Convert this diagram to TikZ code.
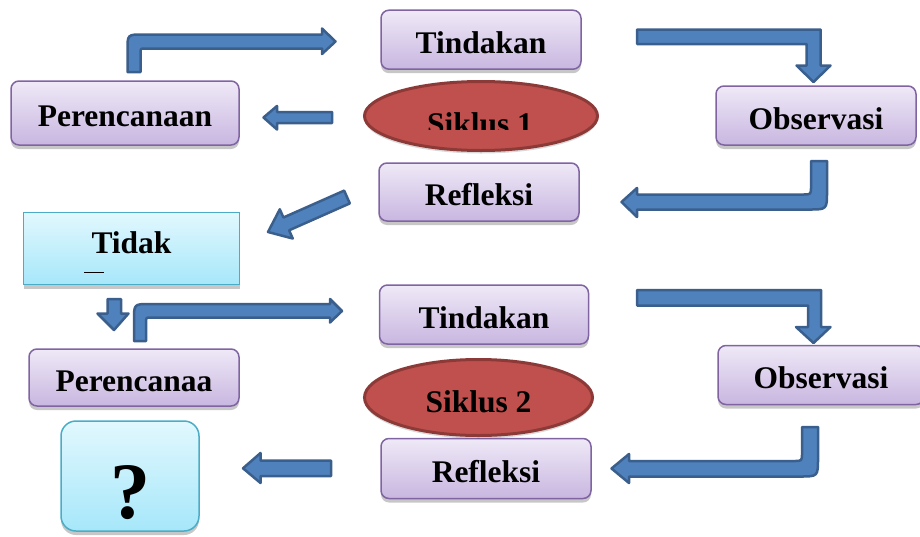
\documentclass[tikz,border=0pt]{standalone}
\usepackage{fontspec}
\setmainfont{Liberation Serif}
\usetikzlibrary{shapes.geometric,shadows,calc}
\definecolor{boxtop}{HTML}{EFE9F7}
\definecolor{boxbot}{HTML}{C8B6E0}
\definecolor{boxline}{HTML}{8064A2}
\definecolor{ellfill}{HTML}{C0504D}
\definecolor{ellline}{HTML}{8C3A38}
\definecolor{arrfill}{HTML}{4F81BD}
\definecolor{arrline}{HTML}{3A5F8C}
\definecolor{cyantop}{HTML}{E2F8FE}
\definecolor{cyanbot}{HTML}{A6E7FA}
\definecolor{cyanline}{HTML}{4BACC6}
\tikzset{
  stagebox/.style={draw=boxline, line width=1.5pt, rounded corners=8pt,
    top color=boxtop, bottom color=boxbot,
    font=\fontsize{31.5}{36}\selectfont\bfseries,
    text height=27.5pt, text depth=0pt, inner sep=0pt,
    drop shadow={shadow xshift=0pt, shadow yshift=-4pt, opacity=0.22, fill=black}},
  cyanbox/.style={draw=cyanline, line width=1.5pt,
    top color=cyantop, bottom color=cyanbot, inner sep=0pt,
    drop shadow={shadow xshift=0pt, shadow yshift=-4pt, opacity=0.22, fill=black}},
  cycleell/.style={ellipse, draw=ellline, line width=3pt, fill=ellfill, inner sep=0pt,
    font=\fontsize{31.5}{36}\selectfont\bfseries,
    drop shadow={shadow xshift=0pt, shadow yshift=-3pt, opacity=0.15, fill=black}},
  blockarrow/.style={fill=arrfill, draw=arrline, line width=2.5pt, line join=round}
}
\begin{document}
\begin{tikzpicture}[x=1pt,y=-1pt]
\useasboundingbox (0,0) rectangle (920,536);

% ---- cycle 1 ----
\node[stagebox, minimum width=200pt, minimum height=59pt] (tindakanA) at (481,39.7) {Tindakan};
\node[stagebox, minimum width=228pt, minimum height=64pt] (perencanaanA) at (125,113) {Perencanaan};
\node[stagebox, minimum width=200pt, minimum height=59pt] (observasiA) at (816,115.5) {Observasi};
\node[stagebox, minimum width=200pt, minimum height=58pt] (refleksiA) at (479,192) {Refleksi};
\node[cycleell, minimum width=233pt, minimum height=69pt] (siklusA) at (481,116) {};
\begin{scope}
  \clip (363,80) rectangle (600,129.5);
  \node[anchor=base, inner sep=0pt, font=\fontsize{31.5}{36}\selectfont\bfseries] (siklusAtext) at (480,134) {Siklus 1};
\end{scope}

% ---- Tidak ----
\node[cyanbox, minimum width=216pt, minimum height=72pt,
      font=\fontsize{31.5}{36}\selectfont\bfseries, text height=21pt, text depth=11.4pt] (tidak) at (131.5,248.5) {Tidak};
\draw[line width=1.8pt] (84,272.5) -- (104,272.5);

% ---- cycle 2 ----
\node[stagebox, minimum width=209pt, minimum height=59pt] (tindakanB) at (484,314.5) {Tindakan};
\node[stagebox, minimum width=210pt, minimum height=57pt] (perencanaanB) at (134,377.5) {Perencanaa};
\node[stagebox, minimum width=206pt, minimum height=59pt] (observasiB) at (821,375) {Observasi};
\node[stagebox, minimum width=210pt, minimum height=60pt] (refleksiB) at (486,468.5) {Refleksi};
\node[cycleell, minimum width=228pt, minimum height=76pt, text height=30.4pt, text depth=0pt] (siklusB) at (478.5,397.5) {Siklus 2};

% ---- question box ----
\node[cyanbox, rounded corners=15pt, minimum width=138pt, minimum height=110pt,
      font=\fontsize{80}{84}\selectfont\bfseries, text height=84pt, text depth=0pt] (question) at (130,476) {?};

% ---- block arrows, cycle 1 ----
\draw[blockarrow] (127.5,72) -- (127.5,50) .. controls (127.5,34.5) .. (143,34.5) -- (322,34.5)
  -- (322,28.5) -- (335.5,41.5) -- (322,54) -- (322,48.5) -- (145,48.5)
  .. controls (140.5,48.5) .. (140.5,53) -- (140.5,72) -- cycle;
\draw[blockarrow] (332,112) -- (277,112) -- (277,106) -- (263.5,117.5) -- (277,129.5) -- (277,123) -- (332,123) -- cycle;
\draw[blockarrow] (637,29.5) -- (820.5,29.5) -- (820.5,65.5) -- (830.5,65.5) -- (813.5,82)
  -- (796.5,65.5) -- (806.5,65.5) -- (806.5,44) -- (637,44) -- cycle;
\draw[blockarrow] (811,161) -- (827,161) -- (827,191.5) .. controls (827,209.5) .. (809,209.5)
  -- (637,209.5) -- (637,217) -- (621.5,202) -- (637,188) -- (637,194.5) -- (803,194.5)
  .. controls (811,194.5) .. (811,186.5) -- cycle;
% diagonal arrow Refleksi -> Tidak
\coordinate (dA) at (347,197);
\coordinate (dB) at (268,232);
\coordinate (dH) at ($(dB)!20pt!(dA)$);
\draw[blockarrow] ($(dA)!7pt!90:(dB)$) -- ($(dH)!7pt!90:(dB)$) -- ($(dH)!16pt!90:(dB)$) -- (dB)
  -- ($(dH)!16pt!-90:(dB)$) -- ($(dH)!7pt!-90:(dB)$) -- ($(dA)!7pt!-90:(dB)$) -- cycle;

% ---- block arrows, cycle 2 ----
\draw[blockarrow] (107.5,299) -- (121,299) -- (121,313.5) -- (128.5,313.5) -- (114,330)
  -- (97.5,313.5) -- (107.5,313.5) -- cycle;
\draw[blockarrow] (134,341) -- (134,320) .. controls (134,304) .. (150,304) -- (330,304)
  -- (330,299) -- (342,311) -- (330,322.5) -- (330,317.5) -- (151,317.5)
  .. controls (146,317.5) .. (146,322.5) -- (146,341) -- cycle;
\draw[blockarrow] (637,290) -- (821,290) -- (821,327) -- (830.5,327) -- (813.5,343)
  -- (796,327) -- (808,327) -- (808,305.5) -- (637,305.5) -- cycle;
\draw[blockarrow] (802,427) -- (818,427) -- (818,458) .. controls (818,476.5) .. (800,476.5)
  -- (629,476.5) -- (629,483) -- (611.5,468.5) -- (629,454) -- (629,461) -- (794,461)
  .. controls (802,461) .. (802,453) -- cycle;
\draw[blockarrow] (331,460.5) -- (260.5,460.5) -- (260.5,453) -- (243,468.3) -- (260.5,483)
  -- (260.5,476) -- (331,476) -- cycle;
\end{tikzpicture}
\end{document}
